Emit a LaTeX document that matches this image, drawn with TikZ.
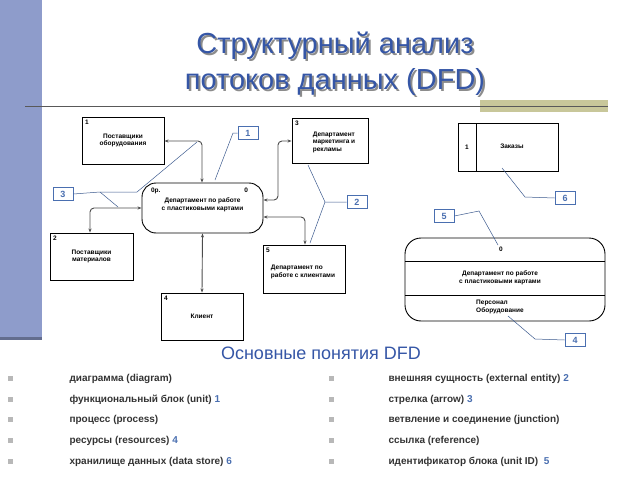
\documentclass[tikz,border=0pt]{standalone}
\usepackage{fontspec}
\setmainfont{Liberation Sans}
\usetikzlibrary{arrows.meta}
\definecolor{ttl}{HTML}{3556A6}
\definecolor{barc}{HTML}{8E9CCB}
\definecolor{olv}{HTML}{C8C79A}
\definecolor{lbl}{HTML}{4A6FB0}
\definecolor{bul}{HTML}{B8B8B8}
\tikzset{
 ent/.style={draw,line width=0.9pt,inner sep=0pt},
 small/.style={font=\fontsize{6.5}{7.5}\selectfont\bfseries,align=center},
 flow/.style={draw=black!70,line width=0.9pt,{Stealth[length=4pt]}-{Stealth[length=4pt]},rounded corners=4pt},
 ann/.style={draw=lbl!80!black,line width=0.5pt},
 lab/.style={draw=lbl,fill=white,line width=0.8pt,minimum width=20pt,minimum height=13.5pt,inner sep=0pt,font=\fontsize{9}{9}\selectfont\bfseries,text=lbl},
 item/.style={anchor=west,font=\fontsize{10}{11}\selectfont\bfseries,text=black!80},
}
\begin{document}
\begin{tikzpicture}[x=1pt,y=-1pt]
\useasboundingbox (0,0) rectangle (638,479);
\fill[barc] (0,0) rectangle (42,340);
\fill[barc!70!black] (0,337) rectangle (42,340);
\fill[olv] (480,100) rectangle (608,112);
\draw[gray!70!black,line width=0.8pt] (25,106) -- (608,106);
\node[text=black!45,font=\fontsize{29}{32}\selectfont] at (337,48) {Структурный анализ};
\node[text=black!45,font=\fontsize{29}{32}\selectfont] at (337,84) {потоков данных (DFD)};
\node[text=ttl,font=\fontsize{29}{32}\selectfont] (t1) at (335,46) {Структурный анализ};
\node[text=ttl,font=\fontsize{29}{32}\selectfont] (t2) at (335,82) {потоков данных (DFD)};
% left diagram
\node[ent,minimum width=82pt,minimum height=47pt] (b1) at (123,140.5) {};
\node[small,anchor=north west] at (b1.north west) {1};
\node[small] at (b1.center) {Поставщики\\оборудования};
\node[ent,minimum width=121pt,minimum height=50pt,rounded corners=14pt] (p) at (202.5,208) {};
\node[small,anchor=north west] at ([xshift=6pt,yshift=-2pt]p.north west) {0р.};
\node[small,anchor=north east] at ([xshift=-12pt,yshift=-2pt]p.north east) {0};
\node[small] at ([yshift=3pt]p.center) {Департамент по  работе\\с пластиковыми картами};
\node[ent,minimum width=76pt,minimum height=45pt] (b3) at (330,140.5) {};
\node[small,anchor=north west] at (b3.north west) {3};
\node[small,align=left] at (334,142) {Департамент\\маркетинга и\\рекламы};
\node[ent,minimum width=83pt,minimum height=47pt] (b2) at (91.5,256.5) {};
\node[small,anchor=north west] at (b2.north west) {2};
\node[small] at (b2.center) {Поставщики\\материалов};
\node[ent,minimum width=82pt,minimum height=48pt] (b5) at (304,269) {};
\node[small,anchor=north west] at (b5.north west) {5};
\node[small,align=left] at (303,272) {Департамент по\\работе с клиентами};
\node[ent,minimum width=82pt,minimum height=47pt] (b4) at (202,316.5) {};
\node[small,anchor=north west] at (b4.north west) {4};
\node[small] at (b4.center) {Клиент};
\coordinate (c1) at (202,141);
\draw[flow] (b1.east |- c1) -- (c1) -- (c1 |- p.north);
\coordinate (c2) at (90,208);
\draw[flow] (p.west |- c2) -- (c2) -- (c2 |- b2.north);
\coordinate (c3) at (278,141);
\draw[flow] (b3.west |- c3) -- (c3) -- (278,200) -- (p.east |- 0,200);
\coordinate (c5) at (305,217);
\draw[flow] (p.east |- c5) -- (c5) -- (c5 |- b5.north);
\draw[flow] (p.south) -- (b4.north);
% labels
\node[lab] (l1) at (248,133) {1};
\node[lab] (l3) at (63,194) {3};
\node[lab] (l2) at (357,202) {2};
\coordinate (j3) at (100,192);
\coordinate (j2) at (325,202);
\draw[ann] (l1.west) -- (233,133) -- (215,180);
\draw[ann] (l3.east) -- (j3) -- (137,192) -- (197,142);
\draw[ann] (j3) -- (118,207);
\draw[ann] (l2.west) -- (j2) -- (308,165);
\draw[ann] (j2) -- (310,243);
% right diagram
\node[ent,minimum width=100pt,minimum height=48pt] (ds) at (508,147) {};
\draw[line width=0.9pt] (476,123) -- (476,171);
\node[small] at (467,147) {1};
\node[small] at (512,146) {Заказы};
\node[ent,minimum width=200pt,minimum height=83pt,rounded corners=16pt] (bp) at (505,279.5) {};
\draw[line width=0.6pt] (405,261) -- (605,261);
\draw[line width=0.6pt] (405,295) -- (605,295);
\node[small] at (501,249) {0};
\node[small] at (500,278) {Департамент по работе\\с пластиковыми картами};
\node[small,align=left] at (500,307) {Персонал\\Оборудование};
\node[lab] (l6) at (565,198) {6};
\node[lab] (l5) at (444,216) {5};
\node[lab] (l4) at (575,340) {4};
\draw[ann] (502,168) -- (525,197) -- (l6.west);
\draw[ann] (l5.east) -- (479,211) -- (498,245);
\draw[ann] (508,316) -- (535,339) -- (l4.west);
% bottom
\node[text=ttl,font=\fontsize{18}{20}\selectfont] (sub) at (321,353) {Основные понятия DFD};
\foreach \y/\t in {379/{диаграмма (diagram)},400/{функциональный блок (unit) \textcolor{lbl}{1}},420/{процесс (process)},441/{ресурсы (resources) \textcolor{lbl}{4}},462/{хранилище данных (data store) \textcolor{lbl}{6}}}{
 \fill[bul] (8,\y-3) rectangle (13,\y+2);
 \node[item] at (66,\y) {\t};
}
\foreach \y/\t in {379/{внешняя сущность (external entity) \textcolor{lbl}{2}},400/{стрелка (arrow) \textcolor{lbl}{3}},420/{ветвление и соединение (junction)},441/{ссылка (reference)},462/{идентификатор блока (unit ID)\ \ \textcolor{lbl}{5}}}{
 \fill[bul] (329,\y-3) rectangle (334,\y+2);
 \node[item] at (385,\y) {\t};
}
\end{tikzpicture}
\end{document}
